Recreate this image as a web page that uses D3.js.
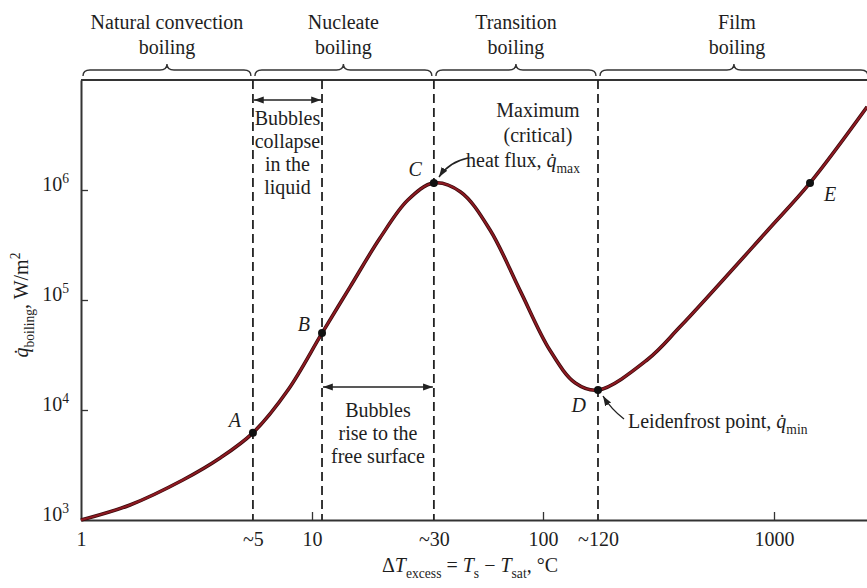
<!DOCTYPE html>
<html>
<head>
<meta charset="utf-8">
<script src="https://d3js.org/d3.v7.min.js"></script>
<style>
	body { margin: 0; background: #fff; }
	svg { display: block; }
	text { font-family: "Liberation Serif", "DejaVu Serif", serif; fill: #1e1e1e; }
</style>
</head>
<body>
<svg id="chart" width="867" height="588"></svg>
<script>

//------------------------------------------------------------------------------
// Data (water at 1 atm)

var curveT = [1, 1.63, 2.76, 4.0, 5.55, 7.87, 11.05, 14.6, 19.7, 26.0, 33.7, 44, 59, 79.4, 107, 138, 173, 282, 392, 942, 1432, 2530];
var curveQ = [1000, 1370, 2310, 3660, 6200, 15200, 50000, 131000, 366000, 811000, 1160000, 960000, 433000, 123000, 35100, 17600, 15200, 28500, 57000, 433000, 1160000, 5700000];

var pointNames = ['A', 'B', 'C', 'D', 'E'];
var pointT = [5.55, 11.05, 33.7, 173, 1432];
var pointQ = [6200, 50000, 1160000, 15200, 1160000];

var boundT = [5.55, 11.05, 33.7, 173];

var xTicks = [1, 5.55, 10, 33.7, 100, 173, 1000];
var xTickLabels = ['1', '~5', '10', '~30', '100', '~120', '1000'];
var yTicks = [1e3, 1e4, 1e5, 1e6];
var yTickPowers = ['3', '4', '5', '6'];

var regimeNames = [['Natural convection', 'boiling'], ['Nucleate', 'boiling'], ['Transition', 'boiling'], ['Film', 'boiling']];
var regimeEdges = [1, 5.55, 33.7, 173, 2600];

//------------------------------------------------------------------------------
// Scales and axes

var svg = d3.select('#chart');
var plotL = 81, plotR = 867, plotT = 80, plotB = 520;

var x = d3.scaleLog().domain([1, Math.pow(10, (plotR - plotL) / 231)]).range([plotL, plotR]);
var y = d3.scaleLog().domain([1e3, 1e7]).range([plotB, plotT]);

function rich(text, parts)
{
	var shift = 0;
	parts.forEach(function (p) {
		var s = p.sub ? 6 : p.sup ? -8 : 0;
		text.append('tspan')
			.attr('dy', s - shift)
			.style('font-style', p.it ? 'italic' : null)
			.style('font-size', (p.sub || p.sup) ? '0.68em' : null)
			.text(p.t);
		shift = s;
	});
	return text;
}

var xAxis = svg.append('g')
	.attr('transform', 'translate(0,' + plotB + ')')
	.call(d3.axisBottom(x)
		.tickValues(xTicks)
		.tickSizeInner(-8)
		.tickSizeOuter(0)
		.tickPadding(12)
		.tickFormat(function (d, i) { return xTickLabels[i]; }));
xAxis.select('.domain').attr('stroke', '#333').attr('stroke-width', 2);
xAxis.selectAll('.tick line').attr('stroke', '#333').attr('stroke-width', 1.3)
	.attr('opacity', function (d) { return [10, 100, 1000].indexOf(d) >= 0 ? 1 : 0; });
xAxis.selectAll('.tick text').style('font-size', '20px').attr('fill', '#1e1e1e');

var yAxis = svg.append('g')
	.attr('transform', 'translate(' + plotL + ',0)')
	.call(d3.axisLeft(y)
		.tickValues(yTicks)
		.tickSizeInner(-7)
		.tickSizeOuter(0)
		.tickPadding(12)
		.tickFormat(''));
yAxis.select('.domain').attr('stroke', '#333').attr('stroke-width', 2);
yAxis.selectAll('.tick line').attr('stroke', '#333').attr('stroke-width', 1.3)
	.attr('opacity', function (d) { return d > 1e3 ? 1 : 0; });
yAxis.selectAll('.tick text')
	.style('font-size', '20px')
	.attr('x', -12)
	.attr('dy', '0.35em')
	.attr('fill', '#1e1e1e')
	.each(function (d, i) {
		rich(d3.select(this), [{t: '10'}, {t: yTickPowers[i], sup: true}]);
	});

// top frame line
svg.append('line')
	.attr('x1', plotL).attr('x2', plotR)
	.attr('y1', plotT).attr('y2', plotT)
	.attr('stroke', '#333').attr('stroke-width', 2);

// axis titles
rich(svg.append('text')
	.attr('transform', 'translate(28,305) rotate(-90)')
	.attr('text-anchor', 'middle')
	.style('font-size', '20px'),
	[{t: 'q\u0307', it: true}, {t: 'boiling', sub: true}, {t: ', W/m'}, {t: '2', sup: true}]);

rich(svg.append('text')
	.attr('x', 470).attr('y', 572)
	.attr('text-anchor', 'middle')
	.style('font-size', '20px'),
	[{t: '\u0394'}, {t: 'T', it: true}, {t: 'excess', sub: true}, {t: ' = '}, {t: 'T', it: true},
	 {t: 's', sub: true}, {t: ' \u2212 '}, {t: 'T', it: true}, {t: 'sat', sub: true}, {t: ', \u00b0C'}]);

//------------------------------------------------------------------------------
// Regime boundaries and braces

svg.append('g').selectAll('line')
	.data(boundT)
	.enter().append('line')
	.attr('x1', function (d) { return x(d); })
	.attr('x2', function (d) { return x(d); })
	.attr('y1', plotT).attr('y2', plotB)
	.attr('stroke', '#222').attr('stroke-width', 1.8)
	.attr('stroke-dasharray', '9,5');

function brace(x0, x1)
{
	var m = (x0 + x1) / 2, b = 70;
	return 'M' + (x0 + 2) + ',' + (b + 6) + 'Q' + (x0 + 2) + ',' + b + ' ' + (x0 + 9) + ',' + b +
		'L' + (m - 7) + ',' + b + 'Q' + m + ',' + b + ' ' + m + ',' + (b - 6) +
		'Q' + m + ',' + b + ' ' + (m + 7) + ',' + b +
		'L' + (x1 - 9) + ',' + b + 'Q' + (x1 - 2) + ',' + b + ' ' + (x1 - 2) + ',' + (b + 6);
}

var regimes = svg.append('g').selectAll('g')
	.data(regimeNames)
	.enter().append('g');
regimes.append('path')
	.attr('d', function (d, i) { return brace(x(regimeEdges[i]), x(regimeEdges[i + 1])); })
	.attr('fill', 'none').attr('stroke', '#333').attr('stroke-width', 1.4);
regimes.each(function (d, i) {
	var cx = (x(regimeEdges[i]) + Math.min(x(regimeEdges[i + 1]), 867)) / 2;
	if (i == 3) cx = 737;
	d3.select(this).selectAll('text')
		.data(d)
		.enter().append('text')
		.attr('x', cx)
		.attr('y', function (t, j) { return 29 + j * 25; })
		.attr('text-anchor', 'middle')
		.style('font-size', '20px')
		.text(function (t) { return t; });
});

//------------------------------------------------------------------------------
// Annotations

var defs = svg.append('defs');
defs.append('marker')
	.attr('id', 'head').attr('viewBox', '0 0 10 10')
	.attr('refX', 10).attr('refY', 5)
	.attr('markerWidth', 7).attr('markerHeight', 7)
	.attr('orient', 'auto-start-reverse')
	.append('path').attr('d', 'M0,1.5L10,5L0,8.5Z').attr('fill', '#222');

function span(t0, t1, yy, lines, ty)
{
	svg.append('line')
		.attr('x1', x(t0) + 1).attr('x2', x(t1) - 1)
		.attr('y1', yy).attr('y2', yy)
		.attr('stroke', '#222').attr('stroke-width', 1.4)
		.attr('marker-start', 'url(#head)').attr('marker-end', 'url(#head)');
	svg.append('g').selectAll('text')
		.data(lines)
		.enter().append('text')
		.attr('x', (x(t0) + x(t1)) / 2)
		.attr('y', function (t, j) { return ty + j * 23; })
		.attr('text-anchor', 'middle')
		.style('font-size', '20px')
		.text(function (t) { return t; });
}

span(boundT[0], boundT[1], 100, ['Bubbles', 'collapse', 'in the', 'liquid'], 125);
span(boundT[1], boundT[2], 387, ['Bubbles', 'rise to the', 'free surface'], 417);

svg.append('g').selectAll('text')
	.data(['Maximum', '(critical)'])
	.enter().append('text')
	.attr('x', 538)
	.attr('y', function (t, j) { return 117 + j * 25; })
	.attr('text-anchor', 'middle')
	.style('font-size', '20px')
	.text(function (t) { return t; });
rich(svg.append('text').attr('x', 466).attr('y', 167).style('font-size', '20px'),
	[{t: 'heat flux, '}, {t: 'q\u0307', it: true}, {t: 'max', sub: true}]);
rich(svg.append('text').attr('x', 628).attr('y', 428).style('font-size', '20px'),
	[{t: 'Leidenfrost point, '}, {t: 'q\u0307', it: true}, {t: 'min', sub: true}]);

svg.append('path')
	.attr('d', 'M468,158Q449,162 439,177')
	.attr('fill', 'none').attr('stroke', '#222').attr('stroke-width', 1.4)
	.attr('marker-end', 'url(#head)');
svg.append('path')
	.attr('d', 'M624,419Q611,409 603,396')
	.attr('fill', 'none').attr('stroke', '#222').attr('stroke-width', 1.4)
	.attr('marker-end', 'url(#head)');

//------------------------------------------------------------------------------
// Boiling curve

var curve = d3.zip(curveT, curveQ);
var line = d3.line()
	.x(function (d) { return x(d[0]); })
	.y(function (d) { return y(d[1]); })
	.curve(d3.curveCatmullRom.alpha(0.5));

svg.append('path').datum(curve)
	.attr('d', line)
	.attr('fill', 'none').attr('stroke', '#3a0a0c').attr('stroke-width', 3.6);
svg.append('path').datum(curve)
	.attr('d', line)
	.attr('fill', 'none').attr('stroke', '#8e1a22').attr('stroke-width', 2);

var points = d3.zip(pointNames, pointT, pointQ);
svg.append('g').selectAll('circle')
	.data(points)
	.enter().append('circle')
	.attr('cx', function (d) { return x(d[1]); })
	.attr('cy', function (d) { return y(d[2]); })
	.attr('r', 4)
	.attr('fill', '#111');

var labelDx = [-12, -12, -12, -12, 14];
var labelDy = [-6, -2, -7, 22, 18];
svg.append('g').selectAll('text')
	.data(points)
	.enter().append('text')
	.attr('x', function (d, i) { return x(d[1]) + labelDx[i]; })
	.attr('y', function (d, i) { return y(d[2]) + labelDy[i]; })
	.attr('text-anchor', function (d, i) { return i == 4 ? 'start' : 'end'; })
	.style('font-size', '20px').style('font-style', 'italic')
	.text(function (d) { return d[0]; });

</script>
</body>
</html>
